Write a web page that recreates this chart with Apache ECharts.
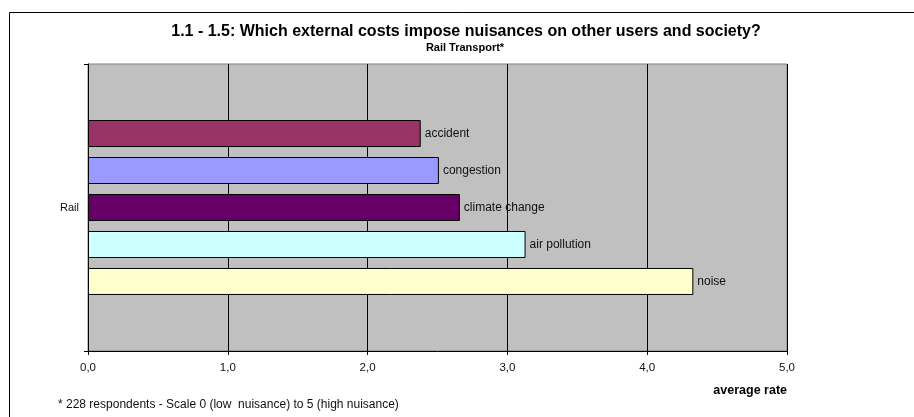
<!DOCTYPE html>
<html>
<head>
<meta charset="utf-8">
<script src="https://cdn.jsdelivr.net/npm/echarts@6/dist/echarts.min.js"></script>
<style>
html,body{margin:0;padding:0;background:#fff;}
#chart{width:914px;height:417px;}
</style>
</head>
<body>
<div id="chart"></div>
<script>
var categories = ['Rail'];
var seriesNames = ['accident', 'congestion', 'climate change', 'air pollution', 'noise'];
var seriesValues = [2.38, 2.51, 2.66, 3.13, 4.33];
var seriesColors = ['#993366', '#9999FF', '#660066', '#CCFFFF', '#FFFFCC'];
var xTicks = [0, 1, 2, 3, 4, 5];

var chart = echarts.init(document.getElementById('chart'), null, {renderer: 'canvas'});
var font = 'Arial, "Liberation Sans", sans-serif';

var series = seriesNames.map(function (name, i) {
  return {
    name: name,
    type: 'bar',
    data: [seriesValues[i]],
    barWidth: 27,
    barGap: '37%',
    itemStyle: {color: seriesColors[i], borderColor: '#000', borderWidth: 1},
    label: {
      show: true, position: 'right', distance: 4,
      formatter: function () { return name; },
      fontFamily: font, fontSize: 12, color: '#111'
    },
    silent: true,
    animation: false
  };
});

chart.setOption({
  animation: false,
  backgroundColor: '#fff',
  grid: {left: 88, right: 127, top: 64, bottom: 66, show: true, backgroundColor: '#C0C0C0', borderColor: '#808080', borderWidth: 1},
  xAxis: {
    type: 'value', min: xTicks[0], max: xTicks[xTicks.length - 1], interval: 1,
    axisLine: {show: true, lineStyle: {color: '#000', width: 1}},
    axisTick: {show: true, length: 4, lineStyle: {color: '#000'}},
    splitLine: {show: true, lineStyle: {color: '#000', width: 1}},
    axisLabel: {
      margin: 11, fontFamily: font, fontSize: 11.5, color: '#111',
      formatter: function (v) { return v.toFixed(1).replace('.', ','); }
    }
  },
  yAxis: {
    type: 'category', data: categories,
    axisLine: {show: true, lineStyle: {color: '#000', width: 1}},
    axisTick: {show: true, length: 4, lineStyle: {color: '#000'}},
    axisLabel: {margin: 9, fontFamily: font, fontSize: 11, color: '#111'}
  },
  series: series,
  graphic: [
    {type: 'rect', left: 7, top: 10, shape: {width: 1000, height: 1000}, style: {fill: 'none', stroke: '#000', lineWidth: 1}, silent: true, z: -1},
    {type: 'text', x: 466, y: 32, style: {text: '1.1 - 1.5: Which external costs impose nuisances on other users and society?', font: 'bold 16px ' + font, fill: '#000', textAlign: 'center', textVerticalAlign: 'middle'}},
    {type: 'text', x: 465, y: 48, style: {text: 'Rail Transport*', font: 'bold 11px ' + font, fill: '#000', textAlign: 'center', textVerticalAlign: 'middle'}},
    {type: 'text', x: 787, y: 391, style: {text: 'average rate', font: 'bold 12.5px ' + font, fill: '#000', textAlign: 'right', textVerticalAlign: 'middle'}},
    {type: 'text', x: 58, y: 405, style: {text: '* 228 respondents - Scale 0 (low  nuisance) to 5 (high nuisance)', font: '12px ' + font, fill: '#111', textAlign: 'left', textVerticalAlign: 'middle'}}
  ]
});
</script>
</body>
</html>
